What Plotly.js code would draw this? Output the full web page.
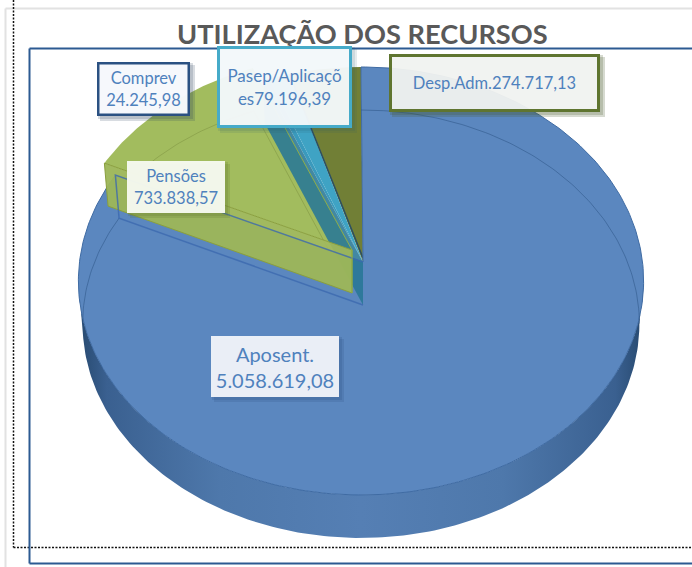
<!DOCTYPE html>
<html>
<head>
<meta charset="utf-8">
<script src="https://cdn.plot.ly/plotly-3.0.1.min.js"></script>
<style>html,body{margin:0;padding:0;background:#fff}#chart{width:692px;height:567px}</style>
</head>
<body>
<div id="chart"></div>
<script>
// ---- data
const categories = ["Aposent.", "Pensões", "Comprev", "Pasep/Aplicações", "Desp.Adm."];
const values = [5058619.08, 733838.57, 24245.98, 79196.39, 274717.13];
const labelTexts = ["Aposent.<br>5.058.619,08", "Pensões<br>733.838,57", "Comprev<br>24.245,98",
  "Pasep/Aplicaçõ<br>es79.196,39", "Desp.Adm.274.717,13"];
const chartTitle = "UTILIZAÇÃO DOS RECURSOS";

// ---- styles
const topColors = ["#5b87bf", "#a2bc5e", "#3a9abd", "#3fa3c4", "#717f36"];
const tealWall = "rgba(40,120,150,0.88)";
const explode = [[0,0],[-11,-12],[0,0],[0,0],[0,0]];

// ---- 3-D pie geometry (perspective projection of a disc)
const CX = 361, APEX_DX = 2, CY = 262, DEPTH = 43, RX = 281.5, RY = 212.3, PERSP = 0.0887, BASE_SHRINK = 0.985;
function project(deg, r, ox, oy, drop) {
  const a = deg * Math.PI / 180, u = r * Math.sin(a), v = r * Math.cos(a), w = 1 + PERSP * v;
  const sx = drop > 0 ? BASE_SHRINK : 1;
  return [CX + ox + RX * sx * u / w, CY + oy + drop - RY * v / w];
}
function arc(a0, a1, ox, oy, drop) {
  const pts = [], n = Math.max(2, Math.ceil(Math.abs(a1 - a0)));
  for (let i = 0; i <= n; i++) pts.push(project(a0 + (a1 - a0) * i / n, 1, ox, oy, drop));
  return pts;
}
const total = values.reduce((s, v) => s + v, 0);
let acc = 0;
const spans = values.map(v => { const s = acc; acc += v / total * 360; return [s, acc]; });

const traces = [];
function poly(name, pts, color, extra) {
  traces.push(Object.assign({
    type: "scatter", mode: "lines", name: name, showlegend: false, hoverinfo: "name",
    x: pts.map(p => p[0]), y: pts.map(p => p[1]),
    fill: "toself", fillcolor: color, line: { width: 0, color: color }
  }, extra || {}));
}
function stroke(name, pts, color, width) {
  traces.push({ type: "scatter", mode: "lines", name: name, showlegend: false, hoverinfo: "skip",
    x: pts.map(p => p[0]), y: pts.map(p => p[1]), line: { width: width, color: color } });
}
function topFace(i) {
  const [ox, oy] = explode[i], apex = [CX + APEX_DX + ox, CY + oy];
  return [apex].concat(arc(spans[i][0], spans[i][1], ox, oy, 0), [apex]);
}
function cutWall(i, deg) {
  const [ox, oy] = explode[i], o = project(deg, 1, ox, oy, 0), b = project(deg, 1, ox, oy, DEPTH);
  const ax = CX + APEX_DX + ox, ay = CY + oy;
  return [[ax, ay], o, b, [ax, ay + DEPTH], [ax, ay]];
}

// outer wall of the big slice, shaded across its width
const wallTop = arc(95, 265, 0, 0, 0), wallBottom = arc(265, 95, 0, 0, DEPTH);
poly(categories[0] + " parede", wallTop.concat(wallBottom, [wallTop[0]]), "#5079ad", {
  fillgradient: { type: "horizontal", colorscale: [[0, "#27496f"], [0.05, "#3a6090"], [0.25, "#4e78ab"], [0.5, "#557fb4"], [0.75, "#4e78ab"], [0.95, "#3a6090"], [1, "#27496f"]] }
});
// back slices
poly(categories[4], topFace(4), topColors[4]);
poly(categories[1], topFace(1), topColors[1]);
stroke(categories[1] + " base", arc(spans[1][0], spans[1][1], explode[1][0], explode[1][1], DEPTH), "rgba(120,140,60,0.45)", 1);
stroke(categories[1] + " corte", [project(spans[1][1], 1, explode[1][0], explode[1][1], DEPTH), [CX + APEX_DX + explode[1][0], CY + explode[1][1] + DEPTH]], "rgba(120,140,60,0.45)", 1);
poly(categories[2], topFace(2), topColors[2]);
poly(categories[3], topFace(3), topColors[3]);
stroke(categories[3] + " borda", [[CX + APEX_DX, CY - 4], project(spans[3][1], 1, 0, 0, 0)], "#2c4f63", 1.5);
// the big slice on top
poly(categories[0], topFace(0), topColors[0], { line: { width: 1, color: "#3f6ba3" } });
stroke(categories[0] + " base", arc(0, 95, 0, 0, DEPTH), "rgba(45,85,135,0.55)", 1);
stroke(categories[0] + " base2", arc(265, spans[0][1], 0, 0, DEPTH), "rgba(45,85,135,0.55)", 1);
// cut walls seen through the surfaces
poly(categories[2] + " corte", cutWall(2, spans[2][0]), tealWall);
poly(categories[1] + " corte", cutWall(1, spans[1][0]), "rgba(157,182,88,0.96)", { line: { width: 1, color: "#8a9f3e" } });
stroke(categories[0] + " corte", cutWall(0, spans[0][1]).slice(0, 4), "rgba(60,105,175,0.8)", 1.5);
stroke(categories[1] + " ponta", cutWall(1, spans[1][1]).slice(0, 2), "#8fae48", 1);
stroke(categories[1] + " aresta", [cutWall(1, spans[1][1])[0], cutWall(1, spans[1][1])[3]], "#8fae48", 1);

// ---- page furniture and labels
const GRAY = "#e2e2e2", FRAME = "#2c5a92", LABEL = "#4f81bd";
function seg(x0, y0, x1, y1, color, width, dash) {
  return { type: "line", xref: "x", yref: "y", x0, y0, x1, y1, layer: "above",
    line: { color, width, dash: dash || "solid" } };
}
const shapes = [
  seg(5.5, 8.5, 5.5, 567, GRAY, 2), seg(5.5, 8.5, 692, 8.5, GRAY, 2),
  seg(13.5, 0, 13.5, 547.5, "#111", 1.5, "2px,1.5px"), seg(13.5, 547.5, 692, 547.5, "#111", 1.5, "2px,1.5px"),
  seg(29.5, 48.5, 692, 48.5, FRAME, 2), seg(29.5, 48.5, 29.5, 563.5, FRAME, 2), seg(29.5, 563.5, 692, 563.5, FRAME, 2)
];
const boxes = [
  { b: [211, 339, 336, 397], size: 20, bg: "rgba(240,244,249,0.96)", border: "rgba(0,0,0,0)", bw: 0, sh: "rgba(40,70,120,0.16)" },
  { b: [127, 225, 161, 213], size: 16.5, bg: "rgba(247,250,240,0.96)", border: "rgba(0,0,0,0)", bw: 0, sh: "rgba(90,110,40,0.18)" },
  { b: [97, 190, 62, 116], size: 16.5, bg: "rgba(248,250,253,0.97)", border: "#2b5182", bw: 2.5, sh: "rgba(40,60,90,0.18)" },
  { b: [217, 352, 46, 128], size: 17, bg: "rgba(245,249,251,0.96)", border: "#46abc9", bw: 3, sh: "rgba(40,90,110,0.12)" },
  { b: [389, 600, 54, 112], size: 16.5, bg: "rgba(246,247,246,0.92)", border: "#5f7530", bw: 3, sh: "rgba(70,85,40,0.22)" }
];
const annotations = [{
  x: 362, y: 33, xref: "x", yref: "y", text: "<b>" + chartTitle + "</b>", showarrow: false,
  font: { family: "Lato, sans-serif", size: 27.2, color: "#595959" }
}];
boxes.forEach((d, i) => {
  const [x0, x1, y0, y1] = d.b;
  [5, 3].forEach(o => shapes.push({ type: "rect", xref: "x", yref: "y", layer: "above", line: { width: 0 },
    x0: x0 + o - 2, x1: x1 + o, y0: y0 + o - 2, y1: y1 + o, fillcolor: d.sh }));
  annotations.push({
    x: (x0 + x1) / 2, y: (y0 + y1) / 2, xref: "x", yref: "y", xanchor: "center", yanchor: "middle",
    width: x1 - x0 - 2 * d.bw, height: y1 - y0 - 2 * d.bw, borderpad: 0, align: "center", valign: "middle",
    text: labelTexts[i], showarrow: false, bgcolor: d.bg, bordercolor: d.border, borderwidth: d.bw,
    font: { family: "Lato, sans-serif", size: d.size, color: LABEL }
  });
});

Plotly.newPlot("chart", traces, {
  width: 692, height: 567, margin: { l: 0, r: 0, t: 0, b: 0 },
  paper_bgcolor: "#fff", plot_bgcolor: "#fff", showlegend: false,
  xaxis: { range: [0, 692], visible: false, fixedrange: true },
  yaxis: { range: [567, 0], visible: false, fixedrange: true },
  shapes, annotations
}, { displayModeBar: false, staticPlot: true });
</script>
</body>
</html>
